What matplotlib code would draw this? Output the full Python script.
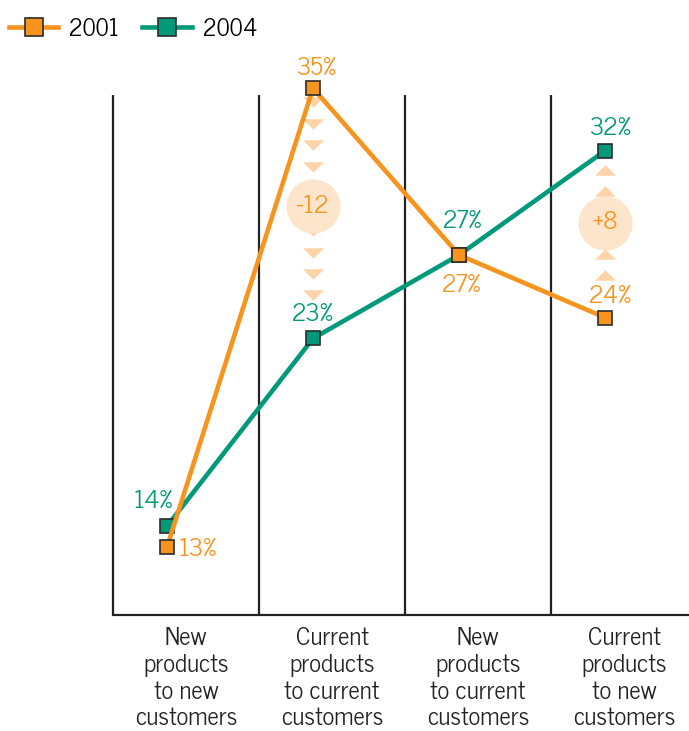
import matplotlib
matplotlib.use("Agg")
import matplotlib.pyplot as plt
import numpy as np

plt.rcParams['font.family'] = ['News Cycle', 'Roboto Condensed', 'PT Sans Narrow', 'Liberation Sans', 'DejaVu Sans']

# data
categories = ["New\nproducts\nto new\ncustomers",
              "Current\nproducts\nto current\ncustomers",
              "New\nproducts\nto current\ncustomers",
              "Current\nproducts\nto new\ncustomers"]
years = ["2001", "2004"]
share_2001 = [13, 35, 27, 24]
share_2004 = [14, 23, 27, 32]

ORANGE = "#F7941D"
GREEN = "#00997A"
TRI = "#FDD3A7"
BUBBLE = "#FDE5CC"
EDGE = "#2B2B2B"

W, H, DPI = 689, 731, 100
fig = plt.figure(figsize=(W / DPI, H / DPI), dpi=DPI)
ax = fig.add_axes([113 / W, (H - 615) / H, (W - 113) / W, (615 - 60) / H])
x = np.arange(len(categories))
ax.set_xlim(-0.37, 3.575)
ax.set_ylim(9.74, 36.35)

# column separators and baseline
bounds = x - 0.37
ax.vlines(bounds, 9.74, 34.67, color="#222222", lw=1.6, clip_on=False, zorder=1)
for s in ["top", "right", "left"]:
    ax.spines[s].set_visible(False)
ax.spines["bottom"].set_color("#222222")
ax.spines["bottom"].set_linewidth(1.6)
ax.set_xticks([])
ax.set_yticks([])

# change indicators between the two years
tri_down = [(-1, 0.5), (1, 0.5), (0, -0.5)]
tri_up = [(-1, -0.5), (1, -0.5), (0, 0.5)]
for i in range(len(categories)):
    d = share_2004[i] - share_2001[i]
    if abs(d) < 5:
        continue
    lo, hi = sorted([share_2001[i], share_2004[i]])
    n = hi - lo - 2
    if d < 0:
        ys = np.linspace(hi - 0.67, lo + 2.06, n)
        mid = (ys[0] + ys[-1]) / 2 - 0.35
    else:
        ys = np.linspace(lo + 2.04, hi - 0.93, n)
        mid = (ys[0] + ys[-1]) / 2
    ax.plot([i] * n, ys, ls="none", marker=tri_down if d < 0 else tri_up,
            ms=15, color=TRI, mec="none", zorder=1)
    ax.plot(i, mid, marker="o", ms=39, color=BUBBLE, mec="none", zorder=1.5)
    ax.text(i, mid, f"{d:+d}", color=ORANGE, fontsize=18,
            ha="center", va="center", zorder=2)

l04, = ax.plot(x, share_2004, color=GREEN, lw=3.3, marker="s", ms=10.5,
               mfc=GREEN, mec=EDGE, mew=1.2, zorder=3, label=years[1])
l01, = ax.plot(x, share_2001, color=ORANGE, lw=3.3, marker="s", ms=10.5,
               mfc=ORANGE, mec=EDGE, mew=1.2, zorder=4, label=years[0])

# value labels (offsets in pixels)
off_2001 = [(12, -2, "left"), (3, 20, "center"), (3, -30, "center"), (5, 21, "center")]
off_2004 = [(-14, 25, "center"), (0, 24, "center"), (4, 34, "center"), (5, 22, "center")]
for vals, offs, col in [(share_2001, off_2001, ORANGE), (share_2004, off_2004, GREEN)]:
    for i, v in enumerate(vals):
        dx, dy, ha = offs[i]
        ax.annotate(f"{v}%", (i, v), xytext=(dx, dy), textcoords="offset pixels",
                    ha=ha, va="center", color=col, fontsize=18, zorder=5)

# category labels
for i, lab in enumerate(categories):
    ax.annotate(lab, (bounds[i] + 0.5, 9.74), xytext=(0, -12), textcoords="offset pixels",
                ha="center", va="top", fontsize=18, color="#222222",
                linespacing=1.21, annotation_clip=False)

fig.legend(handles=[l01, l04], loc="upper left", bbox_to_anchor=(-0.013, 1.0),
           ncol=2, frameon=False, fontsize=17, handlelength=2.1, markerscale=1.25,
           handletextpad=0.45, columnspacing=1.0, borderpad=0.25)

fig.savefig("out.png", dpi=DPI)
